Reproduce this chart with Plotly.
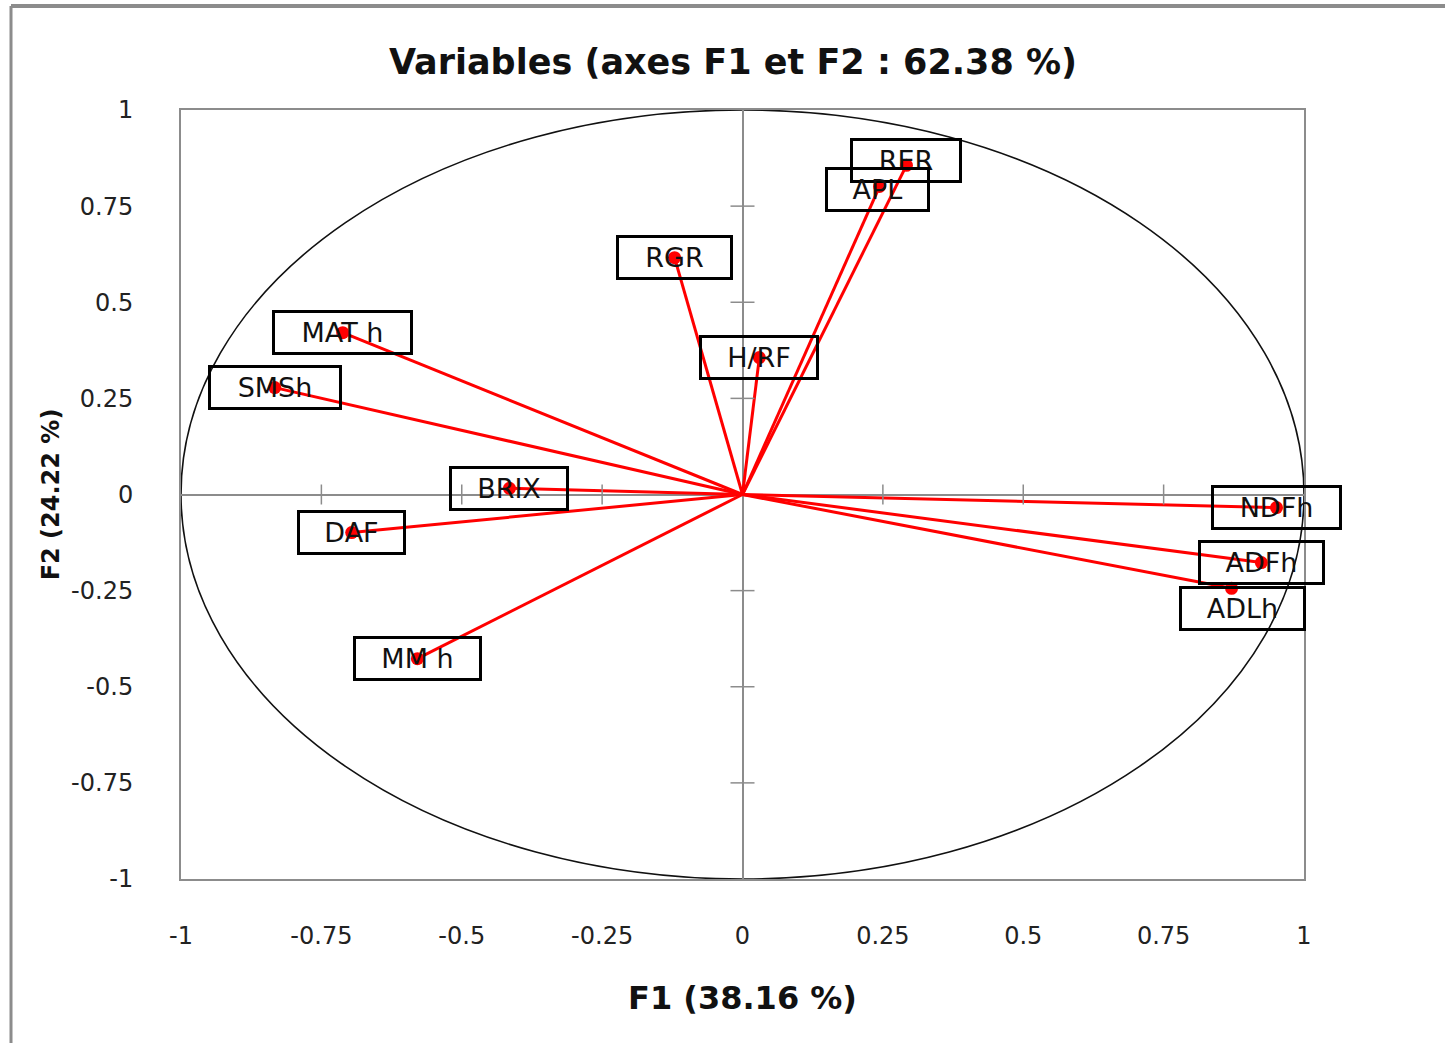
import plotly.graph_objects as go

# ---------------- data ----------------
variables = ["RER", "APL", "RGR", "H/RF", "MAT h", "SMSh", "BRIX", "DAF", "MM h", "NDFh", "ADFh", "ADLh"]
f1 = [0.292, 0.244, -0.121, 0.030, -0.712, -0.833, -0.415, -0.696, -0.579, 0.951, 0.924, 0.871]
f2 = [0.856, 0.801, 0.616, 0.356, 0.421, 0.278, 0.016, -0.099, -0.427, -0.034, -0.177, -0.244]

tick_vals = [-1, -0.75, -0.5, -0.25, 0, 0.25, 0.5, 0.75, 1]
tick_text = ["-1", "-0.75", "-0.5", "-0.25", "0", "0.25", "0.5", "0.75", "1"]

title_text = "Variables (axes F1 et F2 : 62.38 %)"
x_title = "F1 (38.16 %)"
y_title = "F2 (24.22 %)"

# ---------------- style ----------------
W, H = 1445, 1043
L, R, T, B = 181, 141, 110, 164
RED = "#FF0000"
GRAY = "#8C8C8C"
label_box_w = {"RER": 109, "APL": 102, "RGR": 114, "H/RF": 117, "MAT h": 138, "SMSh": 131,
               "BRIX": 117, "DAF": 106, "MM h": 126, "NDFh": 128, "ADFh": 124, "ADLh": 124}
label_shift = {"RER": (0, 5), "APL": (-2, -3), "ADLh": (11, -20)}

fig = go.Figure()

# vectors from origin
vx, vy = [], []
for x, y in zip(f1, f2):
    vx += [0, x, None]
    vy += [0, y, None]
fig.add_trace(go.Scatter(x=vx, y=vy, mode="lines", line=dict(color=RED, width=3),
                         hoverinfo="skip", showlegend=False))
fig.add_trace(go.Scatter(x=f1, y=f2, mode="markers", text=variables,
                         marker=dict(color=RED, size=13), showlegend=False))

shapes = []
# correlation circle
shapes.append(dict(type="circle", xref="x", yref="y", x0=-1, y0=-1, x1=1, y1=1,
                   line=dict(color="#111111", width=1.6), layer="below"))
# cross ticks on the zero lines
for v in tick_vals:
    if v in (0, -1, 1):
        continue
    shapes.append(dict(type="line", xref="x", yref="y", ysizemode="pixel",
                       x0=v, x1=v, yanchor=0, y0=-10, y1=10, line=dict(color=GRAY, width=1.5)))
    shapes.append(dict(type="line", xref="x", yref="y", xsizemode="pixel",
                       xanchor=0, x0=-12, x1=12, y0=v, y1=v, line=dict(color=GRAY, width=1.5)))
# outer picture frame (top and left edges)
pw, ph = W - L - R, H - T - B
fx = (11 - L) / pw
fy = (H - B - 6) / ph
shapes.append(dict(type="line", xref="paper", yref="paper", x0=fx, x1=(W - L) / pw + 0.05,
                   y0=fy, y1=fy, line=dict(color=GRAY, width=4)))
shapes.append(dict(type="line", xref="paper", yref="paper", x0=fx, x1=fx,
                   y0=fy, y1=-(B + 5) / ph, line=dict(color=GRAY, width=3)))

annotations = []
for name, x, y in zip(variables, f1, f2):
    dx, dy = label_shift.get(name, (0, 0))
    annotations.append(dict(x=x, y=y, xref="x", yref="y", text=name, showarrow=False,
                            xshift=dx, yshift=dy, width=label_box_w[name] - 3, height=39,
                            align="center", valign="middle",
                            font=dict(family="DejaVu Sans", size=27, color="#111111"),
                            bordercolor="black", borderwidth=3, borderpad=0,
                            bgcolor="rgba(255,255,255,0)"))

fig.update_layout(
    width=W, height=H,
    margin=dict(l=L, r=R, t=T, b=B, autoexpand=False),
    paper_bgcolor="white", plot_bgcolor="white",
    title=dict(text=title_text, x=733 / W, xref="container", xanchor="center",
               y=1 - 62 / H, yref="container", yanchor="middle",
               font=dict(family="DejaVu Sans", size=35, color="#111111", weight="bold")),
    shapes=shapes, annotations=annotations,
    showlegend=False,
)
fig.update_xaxes(range=[-1, 1], tickvals=tick_vals, ticktext=tick_text,
                 showgrid=False, zeroline=True, zerolinecolor=GRAY, zerolinewidth=1.5,
                 showline=True, mirror=True, linecolor=GRAY, linewidth=2,
                 ticks="outside", ticklen=34, tickcolor="rgba(0,0,0,0)",
                 tickfont=dict(family="DejaVu Sans", size=24, color="#222222"),
                 title=dict(text=x_title, standoff=38,
                            font=dict(family="DejaVu Sans", size=32, color="#111111", weight="bold")))
fig.update_yaxes(range=[-1, 1], tickvals=tick_vals, ticktext=tick_text,
                 showgrid=False, zeroline=True, zerolinecolor=GRAY, zerolinewidth=1.5,
                 showline=True, mirror=True, linecolor=GRAY, linewidth=2,
                 ticks="outside", ticklen=41, tickcolor="rgba(0,0,0,0)",
                 tickfont=dict(family="DejaVu Sans", size=24, color="#222222"),
                 title=dict(text=y_title, standoff=5,
                            font=dict(family="DejaVu Sans", size=24, color="#111111", weight="bold")))

fig.write_html("out.html", config={"displayModeBar": False},
               post_script="document.body.style.margin='0';")
